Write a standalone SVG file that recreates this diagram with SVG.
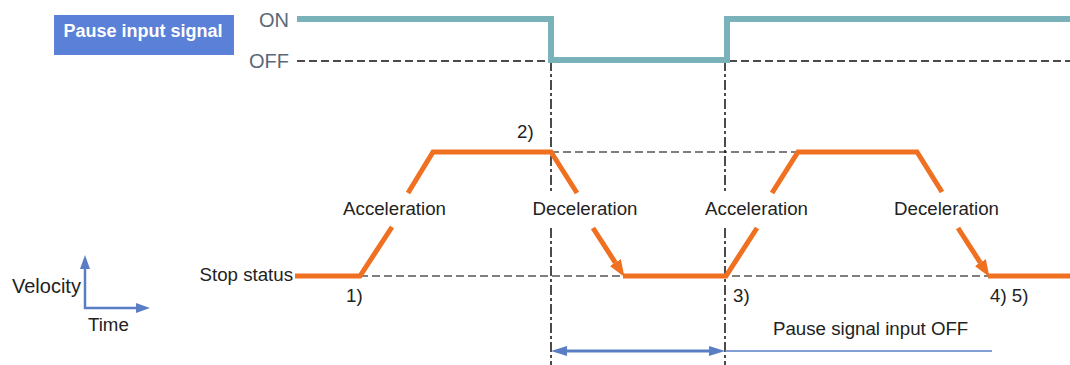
<svg xmlns="http://www.w3.org/2000/svg" width="1070" height="365" viewBox="0 0 1070 365">
<style>
  text { font-family: "Liberation Sans", Arial, sans-serif; fill: #222; font-size: 18.7px; }
  .lvl { fill: #5a6878; font-size: 20px; }
  .title { fill: #ffffff; font-weight: bold; font-size: 18px; }
  .sig { fill: none; stroke: #79b2b8; stroke-width: 6; stroke-linejoin: miter; }
  .vel { fill: none; stroke: #f07022; stroke-width: 5; stroke-linejoin: miter; }
  .dash { fill: none; stroke: #111; stroke-width: 1.5; stroke-dasharray: 8 4; }
  .gdash { fill: none; stroke: #555; stroke-width: 1.5; stroke-dasharray: 8 4; }
  .vdash { fill: none; stroke: #111; stroke-width: 1.5; stroke-dasharray: 10 3 3 3; }
  .blue { fill: none; stroke: #5a7ec3; }
</style>
<defs>
  <marker id="oarrow" markerUnits="userSpaceOnUse" markerWidth="20" markerHeight="16" refX="0" refY="0" viewBox="0 -8 20 16" orient="auto">
    <path d="M0,-6.5 L17,0 L0,6.5 z" fill="#f07022"/>
  </marker>
  <marker id="barrow" markerUnits="userSpaceOnUse" markerWidth="18" markerHeight="12" refX="0" refY="0" viewBox="0 -6 18 12" orient="auto-start-reverse">
    <path d="M0,-5 L16,0 L0,5 z" fill="#5a7ec3"/>
  </marker>
  <marker id="aarrow" markerUnits="userSpaceOnUse" markerWidth="16" markerHeight="12" refX="0" refY="0" viewBox="0 -6 16 12" orient="auto">
    <path d="M0,-5 L14,0 L0,5 z" fill="#5a7ec3"/>
  </marker>
</defs>

<g id="pause-input-signal">
  <rect x="54" y="15" width="180" height="40" fill="#5a80d8"/>
  <text class="title" x="143" y="37" text-anchor="middle">Pause input signal</text>
</g>
<g id="on-level"><text class="lvl" x="289" y="27" text-anchor="end">ON</text></g>
<g id="off-level"><text class="lvl" x="289" y="68" text-anchor="end">OFF</text></g>

<g id="axes">
  <line class="blue" x1="85" y1="309" x2="85" y2="269" stroke-width="2.5" marker-end="url(#aarrow)"/>
  <line class="blue" x1="84" y1="308" x2="136" y2="308" stroke-width="2.5" marker-end="url(#aarrow)"/>
  <text x="12" y="293" style="font-size:20px">Velocity</text>
  <text x="88" y="331">Time</text>
</g>

<g id="connectors">
  <!-- reference dashed lines -->
  <line class="dash" x1="297" y1="61" x2="1070" y2="61"/>
  <line class="gdash" x1="551" y1="152" x2="798" y2="152"/>
  <line class="gdash" x1="360" y1="276" x2="988" y2="276"/>
  <line class="vdash" x1="551" y1="61" x2="551" y2="192"/>
  <line class="vdash" x1="551" y1="228" x2="551" y2="365"/>
  <line class="vdash" x1="725" y1="61" x2="725" y2="192"/>
  <line class="vdash" x1="725" y1="228" x2="725" y2="365"/>

  <!-- pause signal waveform -->
  <polyline class="sig" points="297,19 551,19 551,60 727,60 727,19 1070,19"/>

  <!-- velocity profile -->
  <polyline class="vel" points="295,276 360,276 392,227"/>
  <polyline class="vel" points="408,193 433,152 551,152 577,193"/>
  <line class="vel" x1="593" y1="228" x2="615.3" y2="262.6" marker-end="url(#oarrow)"/>
  <polyline class="vel" points="623,276 726,276 757,228"/>
  <polyline class="vel" points="772,193 798,152 917,152 942,192"/>
  <line class="vel" x1="958" y1="228" x2="980.3" y2="262.6" marker-end="url(#oarrow)"/>
  <line class="vel" x1="988" y1="276" x2="1070" y2="276"/>

  <!-- pause duration arrow -->
  <line class="blue" x1="567" y1="351" x2="709" y2="351" stroke-width="3" marker-start="url(#barrow)" marker-end="url(#barrow)"/>
  <line class="blue" x1="725" y1="351" x2="992" y2="351" stroke-width="1.5"/>
</g>

<g id="labels">
  <text x="293" y="281" text-anchor="end">Stop status</text>
  <text x="394.5" y="215" text-anchor="middle">Acceleration</text>
  <text x="585" y="215" text-anchor="middle">Deceleration</text>
  <text x="756.5" y="215" text-anchor="middle">Acceleration</text>
  <text x="946.5" y="215" text-anchor="middle">Deceleration</text>
  <text x="346" y="302">1)</text>
  <text x="517" y="138">2)</text>
  <text x="733" y="302">3)</text>
  <text x="990" y="302">4) 5)</text>
  <text x="773" y="335">Pause signal input OFF</text>
</g>
</svg>
